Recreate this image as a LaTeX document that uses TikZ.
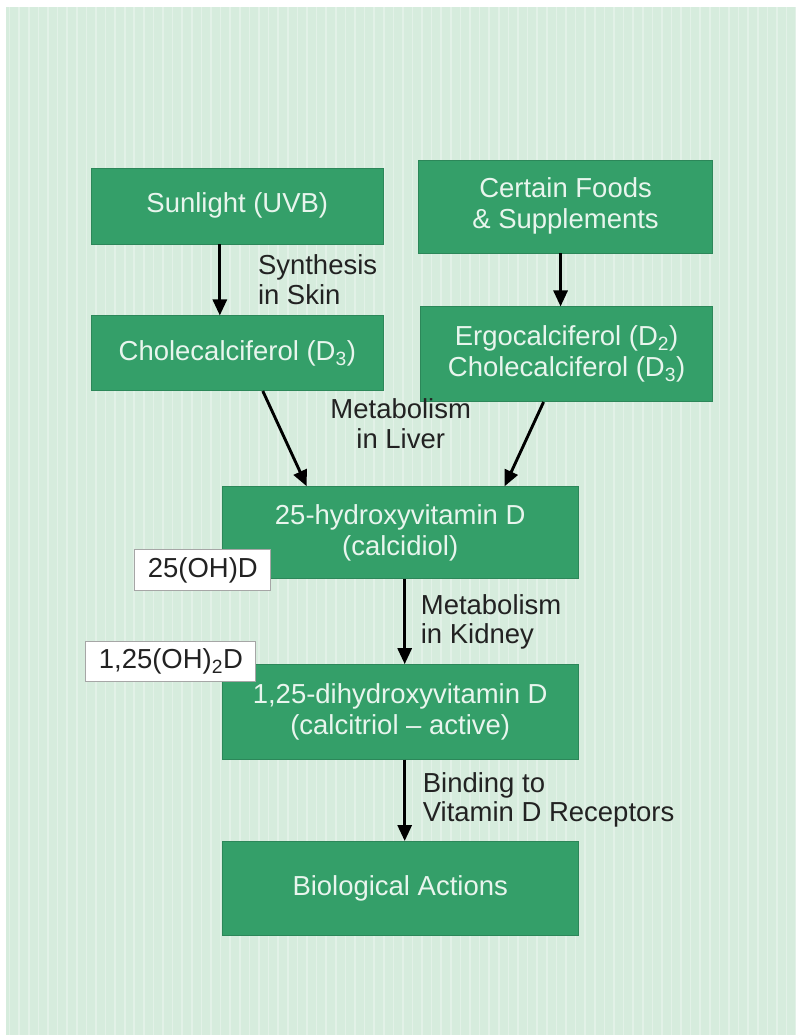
\documentclass[tikz,border=0pt]{standalone}
\usepackage{fontspec}
\setmainfont{Liberation Sans}
\usetikzlibrary{arrows.meta}
\definecolor{bggreen}{RGB}{214,236,221}
\definecolor{boxgreen}{RGB}{52,159,105}
\definecolor{boxtext}{RGB}{232,245,237}
\definecolor{labtext}{RGB}{34,34,34}
\begin{document}
\begin{tikzpicture}[x=1pt,y=-1pt,
  greenbox/.style={fill=boxgreen, draw=boxgreen!85!black, line width=0.6pt, text=boxtext, align=center, inner sep=0pt, font=\fontsize{27.5}{31}\selectfont},
  tagbox/.style={fill=white, draw=gray!70, line width=1pt, text=labtext, inner sep=0pt, font=\fontsize{27.5}{31}\selectfont},
  lab/.style={text=labtext, inner sep=0pt, font=\fontsize{27.5}{29.5}\selectfont},
  flow/.style={line width=2.9pt, draw=black, -{Triangle[length=16pt,width=14pt]}}
]
% background
\path[fill=white] (0,0) rectangle (797,1036);
\fill[bggreen] (6,7) rectangle (797,1036);
\draw[white, opacity=0.3, line width=1.6pt] (6,7) grid[step=9.6] (797,1036);

% green boxes
\node[greenbox, minimum width=293pt, minimum height=76pt] (sun) at (237.5,206) {Sunlight (UVB)};
\node[greenbox, minimum width=294pt, minimum height=93pt] (foods) at (566,206.5) {Certain Foods\\\& Supplements};
\node[greenbox, minimum width=293pt, minimum height=75pt] (chole) at (237.5,353.5) {Cholecalciferol (D\textsubscript{3})};
\node[greenbox, minimum width=292pt, minimum height=95pt] (ergo) at (567,354.5) {Ergocalciferol (D\textsubscript{2})\\Cholecalciferol (D\textsubscript{3})};
\node[greenbox, minimum width=357pt, minimum height=92pt] (hyd) at (400.5,533) {25-hydroxyvitamin D\\(calcidiol)};
\node[greenbox, minimum width=357pt, minimum height=95pt] (dihyd) at (400.5,712.5) {1,25-dihydroxyvitamin D\\(calcitriol -- active)};
\node[greenbox, minimum width=357pt, minimum height=94pt] (bio) at (400.5,889) {Biological Actions};

% tags
\node[tagbox, minimum width=136pt, minimum height=41pt] (tag1) at (203,570.5) {25(OH)D};
\node[tagbox, minimum width=170pt, minimum height=40pt] (tag2) at (171,662) {1,25(OH)\textsubscript{2}D};

% connectors
\draw[flow] (sun.south -| 220,0) -- (chole.north -| 220,0);
\draw[flow] (foods.south -| 561,0) -- (ergo.north -| 561,0);
\draw[flow] (chole.south -| 263,0) -- (hyd.north -| 307,0);
\draw[flow] (ergo.south -| 544,0) -- (hyd.north -| 505,0);
\draw[flow] (hyd.south -| 405,0) -- (dihyd.north -| 405,0);
\draw[flow] (dihyd.south -| 405,0) -- (bio.north -| 405,0);

% connector labels
\node[lab, anchor=west, align=left] (lskin) at (258,280) {Synthesis\\in Skin};
\node[lab, align=center] (lliver) at (401,424) {Metabolism\\in Liver};
\node[lab, anchor=west, align=left] (lkidney) at (421,622.5) {Metabolism\\in Kidney};
\node[lab, anchor=west, align=left] (lbind) at (423,800.5) {Binding to\\Vitamin D Receptors};
\end{tikzpicture}
\end{document}
